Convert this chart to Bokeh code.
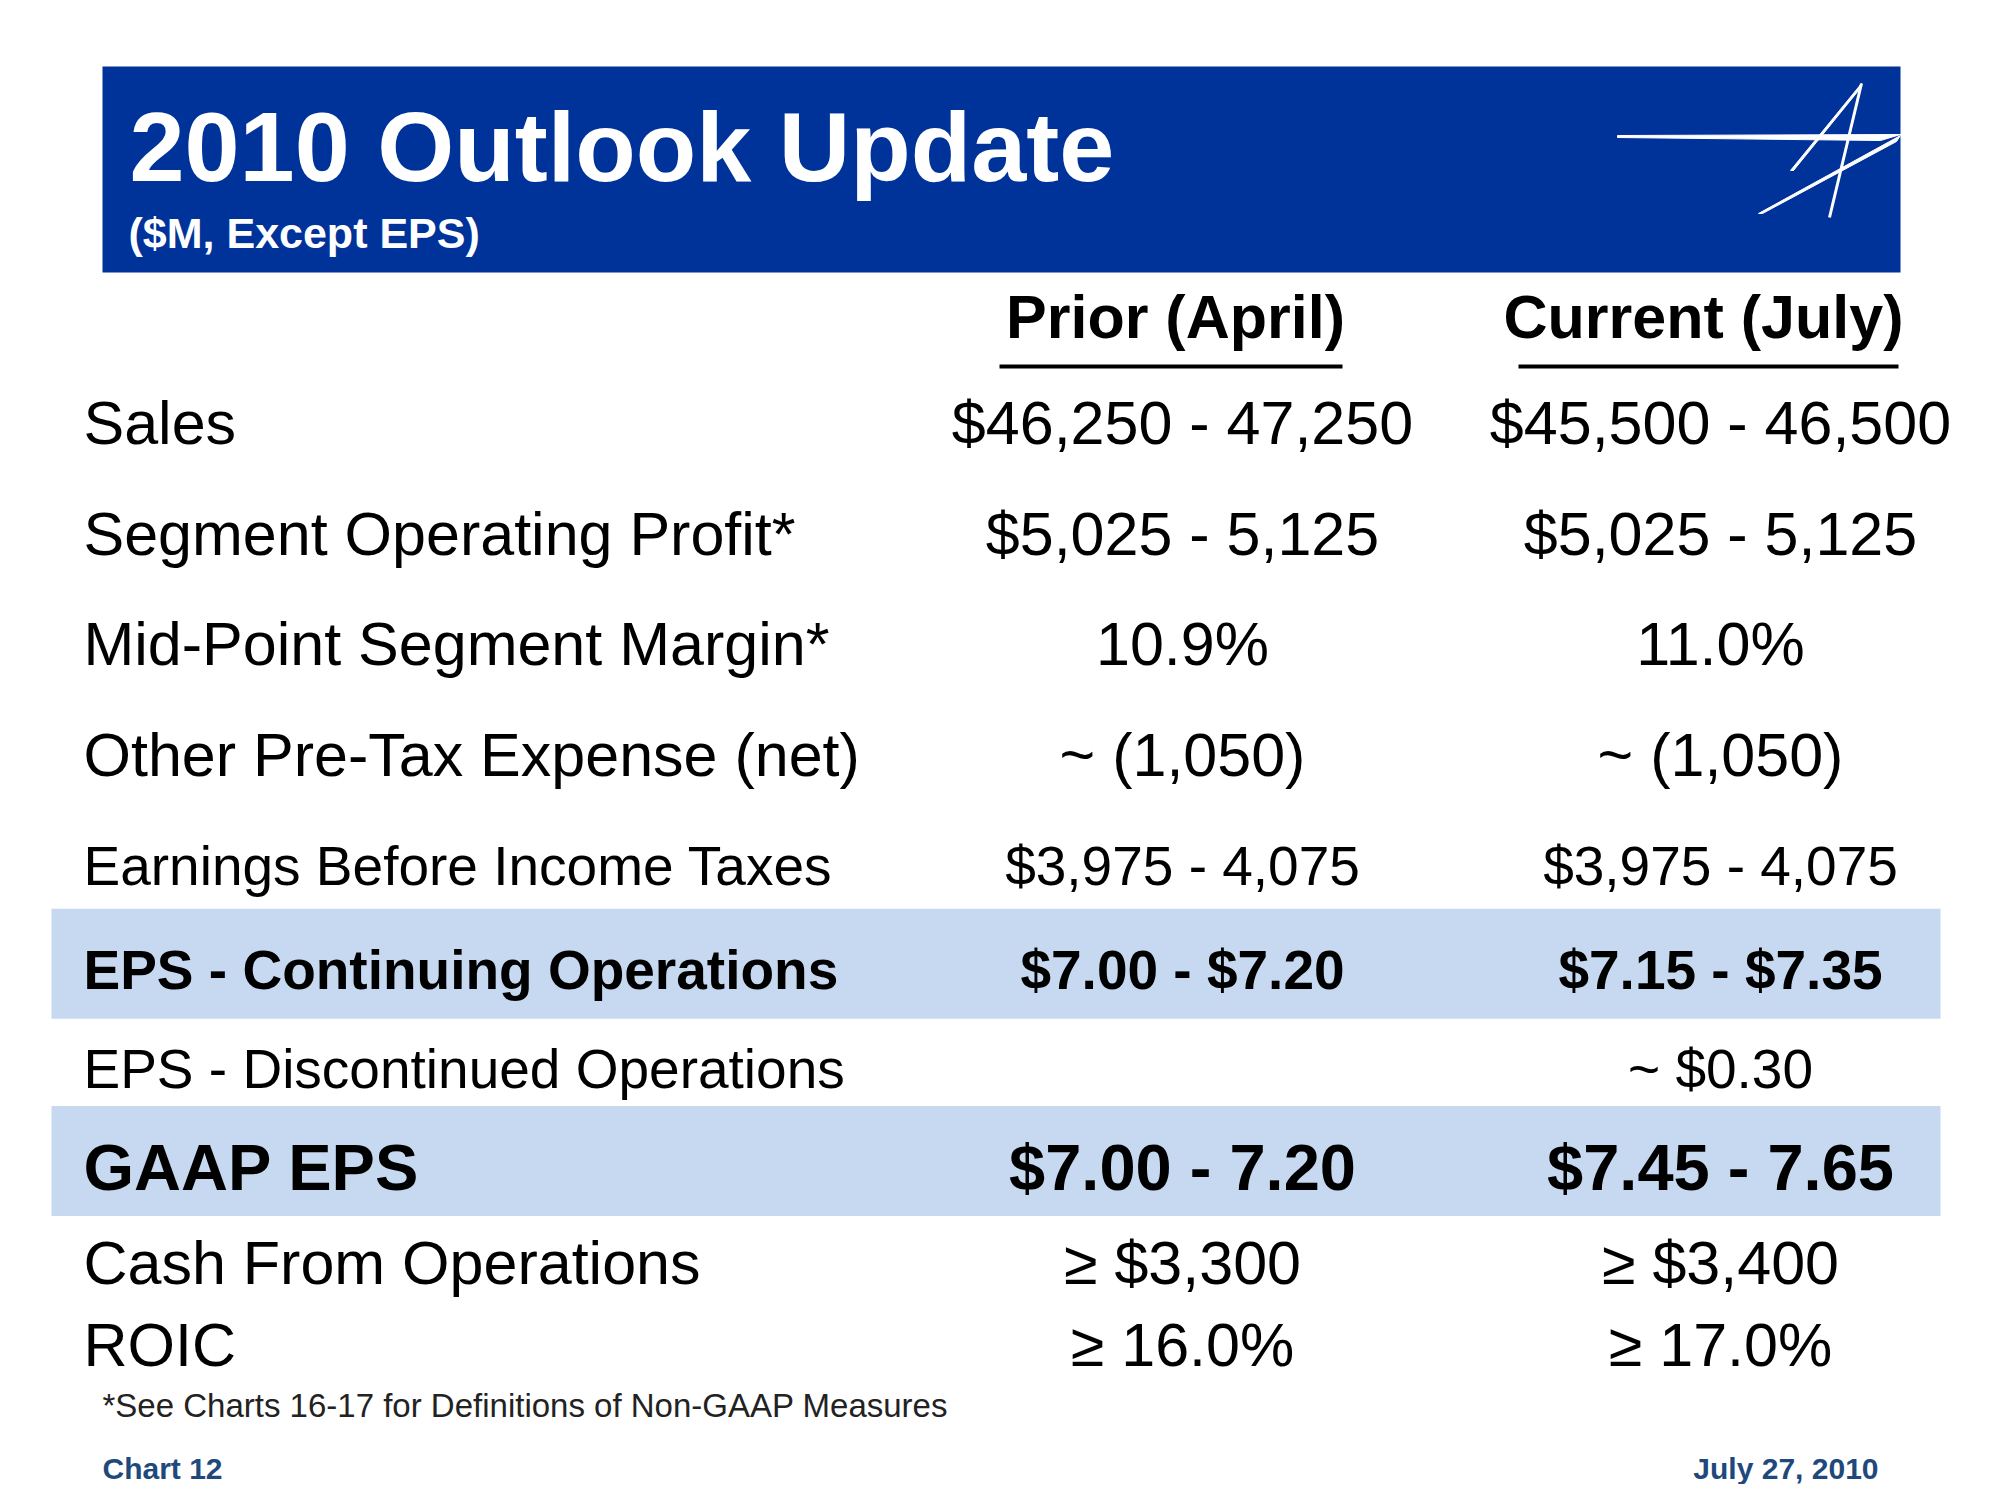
from bokeh.plotting import figure
from bokeh.models import Range1d
from bokeh.embed import file_html
from bokeh.resources import INLINE
from bokeh.core.properties import value

# ---- data ----
title = "2010 Outlook Update"
subtitle = "($M, Except EPS)"
col_headers = ["Prior (April)", "Current (July)"]
labels = ["Sales", "Segment Operating Profit*", "Mid-Point Segment Margin*",
          "Other Pre-Tax Expense (net)", "Earnings Before Income Taxes",
          "EPS - Continuing Operations", "EPS - Discontinued Operations",
          "GAAP EPS", "Cash From Operations", "ROIC"]
prior = ["$46,250 - 47,250", "$5,025 - 5,125", "10.9%", "~ (1,050)",
         "$3,975 - 4,075", "$7.00 - $7.20", "", "$7.00 - 7.20",
         "\u2265 $3,300", "\u2265 16.0%"]
current = ["$45,500 - 46,500", "$5,025 - 5,125", "11.0%", "~ (1,050)",
           "$3,975 - 4,075", "$7.15 - $7.35", "~ $0.30", "$7.45 - 7.65",
           "\u2265 $3,400", "\u2265 17.0%"]
highlighted = ["EPS - Continuing Operations", "GAAP EPS"]
footnote = "*See Charts 16-17 for Definitions of Non-GAAP Measures"
footer_left = "Chart 12"
footer_right = "July 27, 2010"

# ---- layout (pixel coordinates of the slide) ----
row_base = [444, 555, 665, 776, 885, 989, 1088, 1190, 1284, 1366]
row_size = [61, 61, 61, 61, 55, 55, 55, 65, 61, 61]
row_bold = [False, False, False, False, False, True, False, True, False, False]
label_x = 83
col_x = [1182, 1720]
header_x = [1175, 1703]
band_h = 110
MID = 0.35  # distance from baseline to the middle anchor, in font sizes

FONT = "Liberation Sans"
BLUE = "#003399"
BAND = "#c6d9f1"
NAVY = "#1f497d"

W, H = 1984, 1484
p = figure(width=W, height=H, output_backend="svg", toolbar_location=None,
           x_range=Range1d(0, W), y_range=Range1d(H, 0),
           x_axis_location=None, y_axis_location=None,
           min_border=0, outline_line_color=None, background_fill_color="white")
p.grid.visible = False


def txt(x, base, s, size, bold=False, color="black", align="left"):
    p.text(x=[x], y=[base - MID * size], text=[s], text_color=color,
           text_font=value(FONT), text_font_style="bold" if bold else "normal",
           text_font_size=f"{size}px", text_align=align, text_baseline="middle")


# banner
p.quad(left=[102], right=[1900], top=[66], bottom=[272], fill_color=BLUE, line_color=None)
txt(129, 181, title, 99, bold=True, color="white")
txt(128, 248, subtitle, 43, bold=True, color="white")

# logo (decorative)
p.patches(xs=[[1617, 1900, 1880, 1617], [1861, 1790, 1793, 1858], [1900, 1758, 1762, 1896]],
          ys=[[135, 134, 140, 137], [83, 170, 170, 90], [135, 213, 213, 141]],
          fill_color="white", line_color="white", line_width=1)
p.segment(x0=[1861], y0=[83], x1=[1829], y1=[217], line_color="white", line_width=3)

# highlight bands
for lab in highlighted:
    i = labels.index(lab)
    cy = row_base[i] - row_size[i] * 0.36 - 6
    p.quad(left=[51], right=[1940], top=[cy - band_h / 2], bottom=[cy + band_h / 2],
           fill_color=BAND, line_color=None)

# column headers
for hx, h in zip(header_x, col_headers):
    txt(hx, 338, h, 61, bold=True, align="center")
p.segment(x0=[999, 1518], y0=[366, 366], x1=[1342, 1898], y1=[366, 366],
          line_color="black", line_width=4)

# rows
for i, lab in enumerate(labels):
    txt(label_x, row_base[i], lab, row_size[i], bold=row_bold[i])
    for cx, v in zip(col_x, [prior[i], current[i]]):
        if v:
            txt(cx, row_base[i], v, row_size[i], bold=row_bold[i], align="center")

# footnote and footer
txt(102, 1417, footnote, 33, color="#222222")
txt(102, 1478, footer_left, 30, bold=True, color=NAVY)
txt(1878, 1478, footer_right, 30, bold=True, color=NAVY, align="right")

open("out.html", "w").write(file_html(p, INLINE))
